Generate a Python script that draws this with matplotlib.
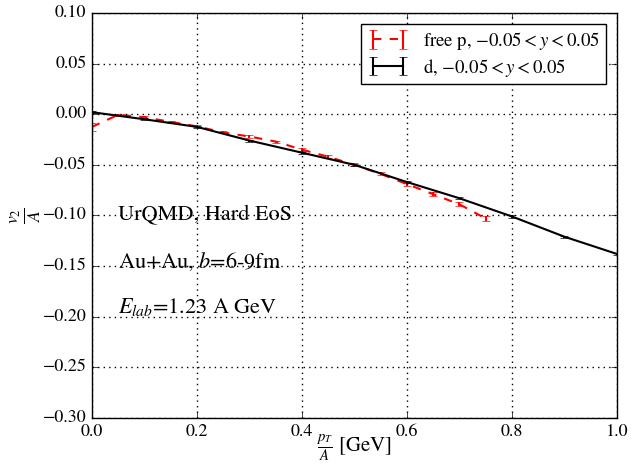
import matplotlib
matplotlib.use("Agg")
import matplotlib.pyplot as plt

# free protons, -0.05 < y < 0.05
p_pt = [0.0, 0.05, 0.1, 0.15, 0.2, 0.25, 0.3, 0.35, 0.4, 0.45, 0.5, 0.55, 0.6, 0.65, 0.7, 0.75]
p_v2 = [-0.0125, -0.0005, -0.003, -0.0076, -0.012, -0.018, -0.022, -0.027,
        -0.035, -0.042, -0.050, -0.059, -0.069, -0.079, -0.089, -0.103]
p_err = [0.004, 0.001, 0.001, 0.001, 0.001, 0.001, 0.001, 0.001,
         0.0015, 0.0015, 0.0015, 0.0015, 0.002, 0.002, 0.002, 0.002]

# deuterons, -0.05 < y < 0.05
d_pt = [0.0, 0.1, 0.2, 0.3, 0.4, 0.5, 0.6, 0.7, 0.8, 0.9, 1.0]
d_v2 = [0.002, -0.005, -0.0125, -0.026, -0.038, -0.050, -0.067, -0.083, -0.101, -0.121, -0.138]
d_err = [0.001, 0.001, 0.001, 0.001, 0.001, 0.001, 0.001, 0.001, 0.001, 0.001, 0.001]

plt.style.use("classic")
plt.rcParams["font.family"] = "serif"
plt.rcParams["font.serif"] = ["STIXGeneral", "Liberation Serif", "DejaVu Serif"]
plt.rcParams["mathtext.fontset"] = "stix"

fig = plt.figure(figsize=(6.41, 4.65), dpi=100)
ax = fig.add_axes([0.1435, 0.1011, 0.819, 0.871])

ax.errorbar(p_pt, p_v2, yerr=p_err, color="red", ls="--", lw=1.5, capsize=3,
            label=r"free p, $-0.05<y<0.05$")
ax.errorbar(d_pt, d_v2, yerr=d_err, color="black", ls="-", lw=1.5, capsize=3,
            label=r"d, $-0.05<y<0.05$")

ax.set_xlim(0.0, 1.0)
ax.set_ylim(-0.30, 0.10)
ax.set_xticks([0.0, 0.2, 0.4, 0.6, 0.8, 1.0])
ax.set_yticks([-0.30, -0.25, -0.20, -0.15, -0.10, -0.05, 0.00, 0.05, 0.10])
ax.tick_params(labelsize=13)
ax.grid(True, color="black", ls=":", lw=1)

ax.set_xlabel(r"$\frac{p_T}{A}$ [GeV]", fontsize=15, labelpad=-5)
ax.set_ylabel(r"$\frac{v_2}{A}$", fontsize=18, labelpad=0)

ax.text(0.05, -0.10, "UrQMD, Hard EoS", fontsize=16, va="center")
ax.text(0.05, -0.146, r"Au+Au, $b$=6-9fm", fontsize=16, va="center")
ax.text(0.05, -0.19, r"$E_{lab}$=1.23 A GeV", fontsize=16, va="center")

ax.legend(loc="upper right", fontsize=13.5, numpoints=2, handlelength=2.2,
          borderaxespad=0.6, borderpad=0.3, labelspacing=0.25, handletextpad=0.8)

fig.savefig("out.png", dpi=100)
